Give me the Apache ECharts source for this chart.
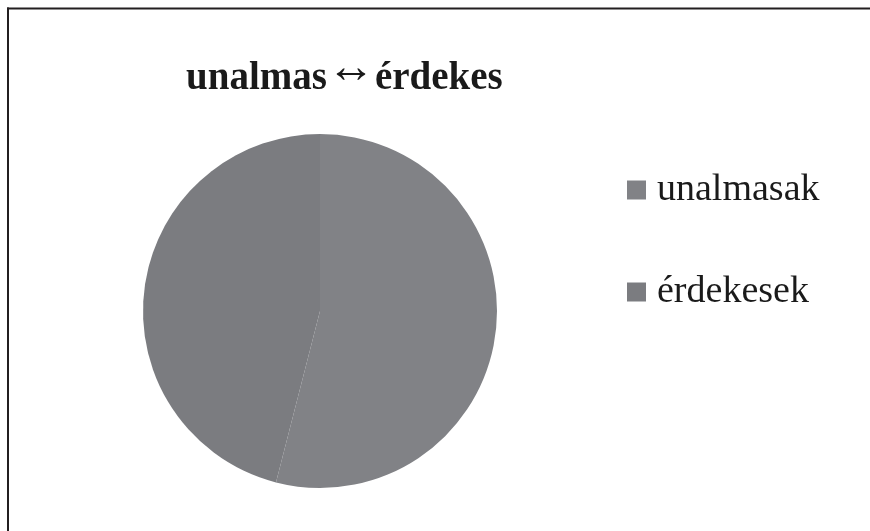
<!DOCTYPE html>
<html>
<head>
<meta charset="utf-8">
<script src="https://cdn.jsdelivr.net/npm/echarts@6/dist/echarts.min.js"></script>
<style>
html,body{margin:0;padding:0;background:#fff;}
#chart{width:870px;height:531px;}
</style>
</head>
<body>
<div id="chart"></div>
<script>
const titleLeft = 'unalmas';
const titleArrow = '\u2194';
const titleRight = 'érdekes';
const categories = ['unalmasak', 'érdekesek'];
const values = [54, 46];
const colors = ['#818286', '#7b7c80'];

const chart = echarts.init(document.getElementById('chart'), null, {renderer: 'canvas'});
chart.setOption({
  backgroundColor: '#ffffff',
  animation: false,
  title: {
    text: titleLeft + '{a|' + titleArrow + '}' + titleRight,
    left: 186,
    top: 45,
    padding: 0,
    textStyle: {
      fontFamily: 'Liberation Serif',
      fontWeight: 'bold',
      fontSize: 39,
      color: '#1a1a1a',
      rich: {
        a: {
          fontFamily: 'Liberation Serif',
          fontWeight: 'normal',
          fontSize: 48,
          padding: [0, 0, 20, 0],
          color: '#1a1a1a'
        }
      }
    }
  },
  legend: {
    orient: 'vertical',
    left: 627,
    top: 170,
    padding: 0,
    itemWidth: 19,
    itemHeight: 19,
    itemGap: 62,
    icon: 'rect',
    data: categories,
    textStyle: {
      fontFamily: 'Liberation Serif',
      fontSize: 38,
      lineHeight: 40,
      color: '#1a1a1a',
      padding: [0, 0, 0, 6]
    }
  },
  graphic: [
    {type: 'line', shape: {x1: 7, y1: 8.5, x2: 870, y2: 8.5}, style: {stroke: '#231f20', lineWidth: 2}},
    {type: 'line', shape: {x1: 8, y1: 7.5, x2: 8, y2: 531}, style: {stroke: '#231f20', lineWidth: 2}}
  ],
  series: [{
    type: 'pie',
    center: [320, 311],
    radius: 177,
    startAngle: 90,
    clockwise: true,
    label: {show: false},
    labelLine: {show: false},
    emphasis: {disabled: true},
    itemStyle: {borderWidth: 0},
    data: categories.map((c, i) => ({name: c, value: values[i], itemStyle: {color: colors[i]}}))
  }]
});
</script>
</body>
</html>
